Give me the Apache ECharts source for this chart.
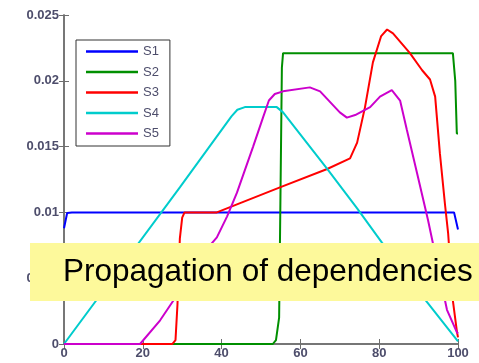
<!DOCTYPE html>
<html>
<head>
<meta charset="utf-8">
<script src="https://cdn.jsdelivr.net/npm/echarts@6/dist/echarts.min.js"></script>
<style>
  html, body { margin: 0; padding: 0; background: #fff; }
  #chart { width: 479px; height: 363px; }
</style>
</head>
<body>
<div id="chart"></div>
<script>
// series names and [x, y] points
var seriesNames = ['S1', 'S2', 'S3', 'S4', 'S5'];
var seriesColors = ['#0000ff', '#008f00', '#ff0000', '#00cccc', '#cc00cc'];

var s1 = [[0, 0.0088], [0.8, 0.00995], [2, 0.01], [99, 0.01], [100, 0.0087]];
var s2 = [[0, 0], [53, 0], [53.8, 0.0003], [54.6, 0.002], [55.3, 0.021], [55.6, 0.0221],
          [98.7, 0.0221], [99.3, 0.02], [99.7, 0.016], [100, 0.016]];
var s3 = [[0, 0], [27.5, 0], [28.3, 0.0003], [28.8, 0.003], [29.4, 0.008], [30, 0.0096],
          [30.6, 0.01], [38.8, 0.01], [44.7, 0.0107], [54.8, 0.0119], [66.8, 0.0133],
          [72.6, 0.0141], [74.4, 0.0153], [76.4, 0.018], [78.4, 0.0214], [80.5, 0.0234],
          [82, 0.0239], [83.5, 0.0236], [87.8, 0.0221], [90.9, 0.0208], [92.9, 0.0201],
          [94.2, 0.0188], [95.4, 0.0145], [96.7, 0.0106], [97.5, 0.0084], [98.7, 0.0033],
          [99.7, 0.001], [100, 0.0005]];
var s4 = [[0, 0], [29.4, 0.0119], [42.5, 0.0173], [44, 0.0178], [45.9, 0.018],
          [54, 0.018], [55.6, 0.0176], [66.8, 0.0133], [74.4, 0.0103], [80.7, 0.0077],
          [92.1, 0.0032], [100, 0.0002]];
var s5 = [[0, 0], [19.3, 0], [24.4, 0.0018], [28.2, 0.0035], [34.5, 0.0066], [38.8, 0.0081],
          [41.4, 0.0097], [43.9, 0.0115], [48, 0.015], [50.5, 0.0172], [52, 0.0185],
          [53.5, 0.019], [55.6, 0.0192], [62.4, 0.0195], [65, 0.0192], [70, 0.0176],
          [71.8, 0.0172], [73.9, 0.0174], [77.7, 0.018], [80.2, 0.0188], [83.2, 0.0193],
          [85.3, 0.0185], [87, 0.0163], [89.6, 0.013], [92.4, 0.0094], [97.2, 0.0026],
          [99.7, 0.0009], [100, 0.0008]];

var xTicks = [0, 20, 40, 60, 80, 100];
var yTickLabels = ['0', '0.005', '0.01', '0.015', '0.02', '0.025'];
var bannerText = 'Propagation of dependencies';

var chart = echarts.init(document.getElementById('chart'));

var labelColor = '#4d4d6b';
var frameColor = '#6e6e6e';
var allData = [s1, s2, s3, s4, s5];

chart.setOption({
  animation: false,
  backgroundColor: '#ffffff',
  grid: { left: 64, right: 21, top: 15, bottom: 19 },
  legend: {
    orient: 'vertical',
    left: 76,
    top: 40,
    padding: [4, 11, 5, 10],
    itemGap: 5.5,
    itemWidth: 52,
    itemHeight: 2.5,
    icon: 'rect',
    borderColor: '#333',
    borderWidth: 1,
    backgroundColor: '#fff',
    textStyle: { color: labelColor, fontFamily: 'Liberation Sans, Arial', fontSize: 13, lineHeight: 15 },
    data: seriesNames
  },
  xAxis: [
    {
      type: 'value', min: 0, max: 100, interval: 20,
      axisLine: { lineStyle: { color: frameColor, width: 1.5 } },
      axisTick: { inside: true, length: 5, lineStyle: { color: frameColor } },
      axisLabel: {
        color: labelColor, fontFamily: 'Liberation Sans, Arial', fontSize: 13, fontWeight: 'bold', margin: 3,
        formatter: function (v) { return xTicks.indexOf(v) >= 0 ? String(v) : ''; }
      },
      splitLine: { show: false }
    },
    {
      type: 'value', min: 0, max: 100, interval: 20, position: 'top',
      axisLine: { show: true, lineStyle: { color: frameColor, width: 1.5 } },
      axisTick: { inside: true, length: 5, lineStyle: { color: frameColor } },
      axisLabel: { show: false },
      splitLine: { show: false }
    }
  ],
  yAxis: [
    {
      type: 'value', min: 0, max: 0.025, interval: 0.005,
      axisLine: { show: true, lineStyle: { color: frameColor, width: 1.5 } },
      axisTick: { show: true, inside: true, length: 5, lineStyle: { color: frameColor } },
      axisLabel: {
        color: labelColor, fontFamily: 'Liberation Sans, Arial', fontSize: 13, fontWeight: 'bold', margin: 5,
        formatter: function (v) { return yTickLabels[Math.round(v / 0.005)]; }
      },
      splitLine: { show: false }
    },
    {
      type: 'value', min: 0, max: 0.025, interval: 0.005, position: 'right',
      axisLine: { show: true, lineStyle: { color: frameColor, width: 1.5 } },
      axisTick: { show: true, inside: true, length: 5, lineStyle: { color: frameColor } },
      axisLabel: { show: false },
      splitLine: { show: false }
    }
  ],
  series: seriesNames.map(function (name, i) {
    return {
      name: name,
      type: 'line',
      xAxisIndex: 0,
      yAxisIndex: 0,
      showSymbol: false,
      symbol: 'none',
      color: seriesColors[i],
      lineStyle: { width: 2, color: seriesColors[i] },
      data: allData[i]
    };
  }),
  graphic: [
    {
      type: 'rect', z: 100,
      shape: { x: 30, y: 243, width: 449, height: 58 },
      style: { fill: '#fdf99b' }
    },
    {
      type: 'text', z: 101,
      x: 63, y: 272,
      style: {
        text: bannerText,
        fill: '#000',
        font: '31.5px "Liberation Sans", Arial, sans-serif',
        verticalAlign: 'middle'
      }
    }
  ]
});
</script>
</body>
</html>
